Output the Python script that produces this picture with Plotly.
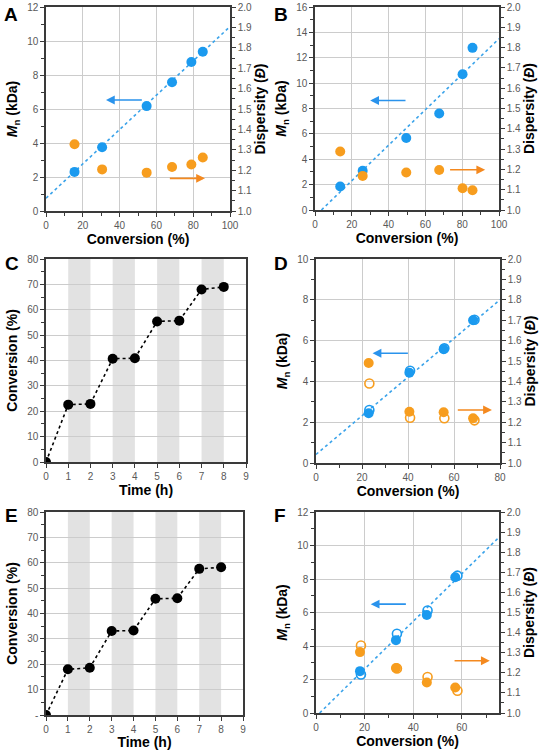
import plotly.graph_objects as go

W, H = 544, 750

# ---------------- data ----------------
# Panel A
a_conv = [15.5, 30.5, 54.7, 68.5, 79.0, 85.2]
a_mn = [2.3, 3.75, 6.17, 7.57, 8.76, 9.37]
a_disp = [1.327, 1.204, 1.188, 1.216, 1.228, 1.262]
a_theo_x = [0, 100]
a_theo_y = [0.75, 10.85]

# Panel B
b_conv = [13.7, 25.9, 49.6, 67.5, 80.2, 85.6]
b_mn = [1.85, 3.1, 5.68, 7.6, 10.7, 12.78]
b_disp = [1.288, 1.168, 1.185, 1.197, 1.107, 1.097]
b_theo_x = [3.5, 100]
b_theo_y = [0, 13.5]

# Panel C
c_time = [0, 1, 2, 3, 4, 5, 6, 7, 8]
c_conv = [0, 22.6, 22.9, 40.7, 40.9, 55.4, 55.7, 68.0, 69.0]
c_bands = [(1, 2), (3, 4), (5, 6), (7, 8)]

# Panel D
d_conv_f = [22.9, 40.6, 55.5, 68.3]
d_mn_f = [2.44, 4.42, 5.58, 7.0]
d_disp_f = [1.49, 1.251, 1.249, 1.219]
d_conv_o = [23.2, 40.9, 55.8, 68.9]
d_mn_o = [2.6, 4.52, 5.62, 7.02]
d_disp_o = [1.39, 1.222, 1.219, 1.209]
d_theo_x = [0, 80]
d_theo_y = [0.42, 8.0]

# Panel E
e_time = [0, 1, 2, 3, 4, 5, 6, 7, 8]
e_conv = [0, 18.0, 18.6, 33.1, 33.3, 45.8, 46.0, 57.6, 58.2]
e_bands = [(1, 2), (3, 4), (5, 6), (7, 8)]
e_ytickvals = [0, 10, 20, 30, 40, 50, 60, 70, 80]
e_yticktext = ['-', '10', '20', '30', '40', '50', '60', '70', '80']

# Panel F
f_conv_f = [18.1, 32.9, 45.6, 57.3]
f_mn_f = [2.5, 4.35, 5.85, 8.1]
f_disp_f = [1.303, 1.224, 1.152, 1.127]
f_conv_o = [18.5, 33.3, 45.9, 58.2]
f_mn_o = [2.3, 4.73, 6.12, 8.2]
f_disp_o = [1.336, 1.222, 1.179, 1.111]
f_theo_x = [1.5, 75]
f_theo_y = [0, 10.45]

# arrows: (panel x-axis, y-axis, tail_x, tail_y, tip_x, tip_y, color)
arrow_list = [
    ('x', 'y', 52.9, 6.53, 32.6, 6.53, 'blue'),
    ('x', 'y', 66.5, 1.92, 86.4, 1.92, 'orange'),
    ('x2', 'y3', 50.0, 8.63, 30.0, 8.63, 'blue'),
    ('x2', 'y3', 72.6, 3.17, 92.5, 3.17, 'orange'),
    ('x4', 'y6', 40.6, 5.38, 24.6, 5.38, 'blue'),
    ('x4', 'y6', 61.0, 2.6, 76.5, 2.6, 'orange'),
    ('x6', 'y9', 37.6, 6.5, 22.5, 6.5, 'blue'),
    ('x6', 'y9', 56.4, 3.12, 71.5, 3.12, 'orange'),
]

panel_letters = ['A', 'B', 'C', 'D', 'E', 'F']

# ---------------- styles ----------------
BLUE = '#1B9AEF'
ORANGE = '#F79D1E'
LINEBLUE = '#3AA3EA'
ARROW_COL = {'blue': '#2A93EC', 'orange': '#F4891F'}
GRID = '#CCCCCC'
AXIS = '#3A3A3A'
TICKC = '#595959'
FONT = 'Liberation Sans, Arial, sans-serif'
BAND = '#E2E2E2'
MS = 10
TITLE_SIZE = 14


def px_x(a, b):
    return [a / W, b / W]


def px_y(top, bottom):
    return [1 - bottom / H, 1 - top / H]


def xax(domain, anchor, rng, dtick, minor, title, grid=True, standoff=2):
    return dict(domain=domain, anchor=anchor, range=rng, dtick=dtick, tick0=0,
                showgrid=grid, gridcolor=GRID, gridwidth=1,
                showline=True, linecolor=AXIS, linewidth=1.5, mirror=True,
                ticks='outside', ticklen=4, tickcolor=AXIS, tickwidth=1,
                minor=dict(ticks='outside', ticklen=3, dtick=minor, tickcolor=AXIS, showgrid=False) if minor else None,
                tickfont=dict(family=FONT, size=10, color=TICKC),
                title=dict(text=title, font=dict(family=FONT, size=TITLE_SIZE, color='black'), standoff=standoff),
                zeroline=False, fixedrange=True, automargin=False)


def yax(domain, anchor, rng, dtick, minor, title, mirror=False, **kw):
    d = dict(domain=domain, anchor=anchor, range=rng, dtick=dtick, tick0=0,
             showgrid=True, gridcolor=GRID, gridwidth=1,
             showline=True, linecolor=AXIS, linewidth=1.5, mirror=mirror,
             ticks='outside', ticklen=4, tickcolor=AXIS, tickwidth=1,
             minor=dict(ticks='outside', ticklen=3, dtick=minor, tickcolor=AXIS, showgrid=False),
             tickfont=dict(family=FONT, size=10, color=TICKC),
             title=dict(text=title, font=dict(family=FONT, size=TITLE_SIZE, color='black'), standoff=6),
             zeroline=False, fixedrange=True, automargin=False)
    d.update(kw)
    return d


def y2ax(overlay, anchor, title):
    return dict(overlaying=overlay, anchor=anchor, side='right', range=[1.0, 2.0], dtick=0.1,
                tick0=1.0, tickformat='.1f', showgrid=False,
                showline=True, linecolor=AXIS, linewidth=1.5,
                ticks='outside', ticklen=4, tickcolor=AXIS, tickwidth=1,
                minor=dict(ticks='outside', ticklen=3, dtick=0.05, tickcolor=AXIS),
                tickfont=dict(family=FONT, size=10, color=TICKC),
                title=dict(text=title, font=dict(family=FONT, size=TITLE_SIZE, color='black'), standoff=4),
                zeroline=False, fixedrange=True, automargin=False)


MN_T = '<b><i>M</i><sub>n</sub> (kDa)</b>'
D_T = '<b>Dispersity (<i>Đ</i>)</b>'
CONV_T = '<b>Conversion (%)</b>'
TIME_T = '<b>Time (h)</b>'

fig = go.Figure()


def theo(xs, ys, xa, ya):
    fig.add_trace(go.Scatter(x=xs, y=ys, xaxis=xa, yaxis=ya, mode='lines',
                             line=dict(color=LINEBLUE, width=1.6, dash='dot'),
                             showlegend=False, hoverinfo='skip'))


def pts(xs, ys, xa, ya, color, open_=False):
    if open_:
        m = dict(symbol='circle-open', size=MS - 1, color=color, line=dict(width=1.6, color=color))
    else:
        m = dict(symbol='circle', size=MS, color=color)
    fig.add_trace(go.Scatter(x=xs, y=ys, xaxis=xa, yaxis=ya, mode='markers',
                             marker=m, showlegend=False))


# A
theo(a_theo_x, a_theo_y, 'x', 'y')
pts(a_conv, a_mn, 'x', 'y', BLUE)
pts(a_conv, a_disp, 'x', 'y2', ORANGE)
# B
theo(b_theo_x, b_theo_y, 'x2', 'y3')
pts(b_conv, b_mn, 'x2', 'y3', BLUE)
pts(b_conv, b_disp, 'x2', 'y4', ORANGE)
# C
fig.add_trace(go.Scatter(x=c_time, y=c_conv, xaxis='x3', yaxis='y5', mode='lines+markers',
                         line=dict(color='black', width=1.6, dash='dot'),
                         marker=dict(color='black', size=MS), showlegend=False))
# D
theo(d_theo_x, d_theo_y, 'x4', 'y6')
pts(d_conv_f, d_mn_f, 'x4', 'y6', BLUE)
pts(d_conv_o, d_mn_o, 'x4', 'y6', BLUE, True)
pts(d_conv_f, d_disp_f, 'x4', 'y7', ORANGE)
pts(d_conv_o, d_disp_o, 'x4', 'y7', ORANGE, True)
# E
fig.add_trace(go.Scatter(x=e_time, y=e_conv, xaxis='x5', yaxis='y8', mode='lines+markers',
                         line=dict(color='black', width=1.6, dash='dot'),
                         marker=dict(color='black', size=MS), showlegend=False))
# F
theo(f_theo_x, f_theo_y, 'x6', 'y9')
pts(f_conv_f, f_mn_f, 'x6', 'y9', BLUE)
pts(f_conv_o, f_mn_o, 'x6', 'y9', BLUE, True)
pts(f_conv_f, f_disp_f, 'x6', 'y10', ORANGE)
pts(f_conv_o, f_disp_o, 'x6', 'y10', ORANGE, True)

shapes = []
for (s, e) in c_bands:
    shapes.append(dict(type='rect', xref='x3', yref='y5', x0=s, x1=e, y0=0, y1=80,
                       fillcolor=BAND, line=dict(width=0), layer='below'))
for (s, e) in e_bands:
    shapes.append(dict(type='rect', xref='x5', yref='y8', x0=s, x1=e, y0=0, y1=80,
                       fillcolor=BAND, line=dict(width=0), layer='below'))

annotations = []
for (xa, ya, tx, ty, hx, hy, col) in arrow_list:
    annotations.append(dict(xref=xa, yref=ya, axref=xa, ayref=ya, x=hx, y=hy, ax=tx, ay=ty,
                            text='', showarrow=True, arrowhead=2, arrowsize=1.1,
                            arrowwidth=1.6, arrowcolor=ARROW_COL[col]))

letter_pos = [(2, 14), (272, 14), (3, 263), (272, 263), (3, 515), (272, 515)]
for lt, (lx, ly) in zip(panel_letters, letter_pos):
    annotations.append(dict(xref='paper', yref='paper', x=lx / W, y=1 - ly / H,
                            xanchor='left', yanchor='middle', text='<b>%s</b>' % lt,
                            showarrow=False, font=dict(family=FONT, size=19, color='black')))

fig.update_layout(
    width=W, height=H, margin=dict(l=0, r=0, t=0, b=0, pad=0, autoexpand=False),
    paper_bgcolor='white', plot_bgcolor='white', showlegend=False,
    font=dict(family=FONT),
    shapes=shapes, annotations=annotations,
    # A
    xaxis=xax(px_x(46, 230), 'y', [0, 100], 20, 10, CONV_T),
    yaxis=yax(px_y(7, 211), 'x', [0, 12], 2, 1, MN_T),
    yaxis2=y2ax('y', 'x', D_T),
    # B
    xaxis2=xax(px_x(315, 499), 'y3', [0, 100], 20, 10, CONV_T),
    yaxis3=yax(px_y(7, 210), 'x2', [0, 16], 2, 1, MN_T),
    yaxis4=y2ax('y3', 'x2', D_T),
    # C
    xaxis3=xax(px_x(46, 246), 'y5', [0, 9], 1, None, TIME_T, grid=False),
    yaxis5=yax(px_y(259, 462), 'x3', [0, 80], 10, 5, CONV_T, mirror=True),
    # D
    xaxis4=xax(px_x(316, 500), 'y6', [0, 80], 20, 10, CONV_T),
    yaxis6=yax(px_y(259, 463), 'x4', [0, 10], 2, 1, MN_T),
    yaxis7=y2ax('y6', 'x4', D_T),
    # E
    xaxis5=xax(px_x(46, 243), 'y8', [0, 9], 1, None, TIME_T, grid=False, standoff=0),
    yaxis8=yax(px_y(512, 715), 'x5', [0, 80], 10, 5, CONV_T, mirror=True,
               tickmode='array', tickvals=e_ytickvals, ticktext=e_yticktext),
    # F
    xaxis6=xax(px_x(316, 499), 'y9', [0, 75.3], 20, 10, CONV_T),
    yaxis9=yax(px_y(512, 713), 'x6', [0, 12], 2, 1, MN_T),
    yaxis10=y2ax('y9', 'x6', D_T),
)

fig.write_html("out.html", config={'displayModeBar': False},
               post_script="document.body.style.margin='0';document.body.style.overflow='hidden';")
